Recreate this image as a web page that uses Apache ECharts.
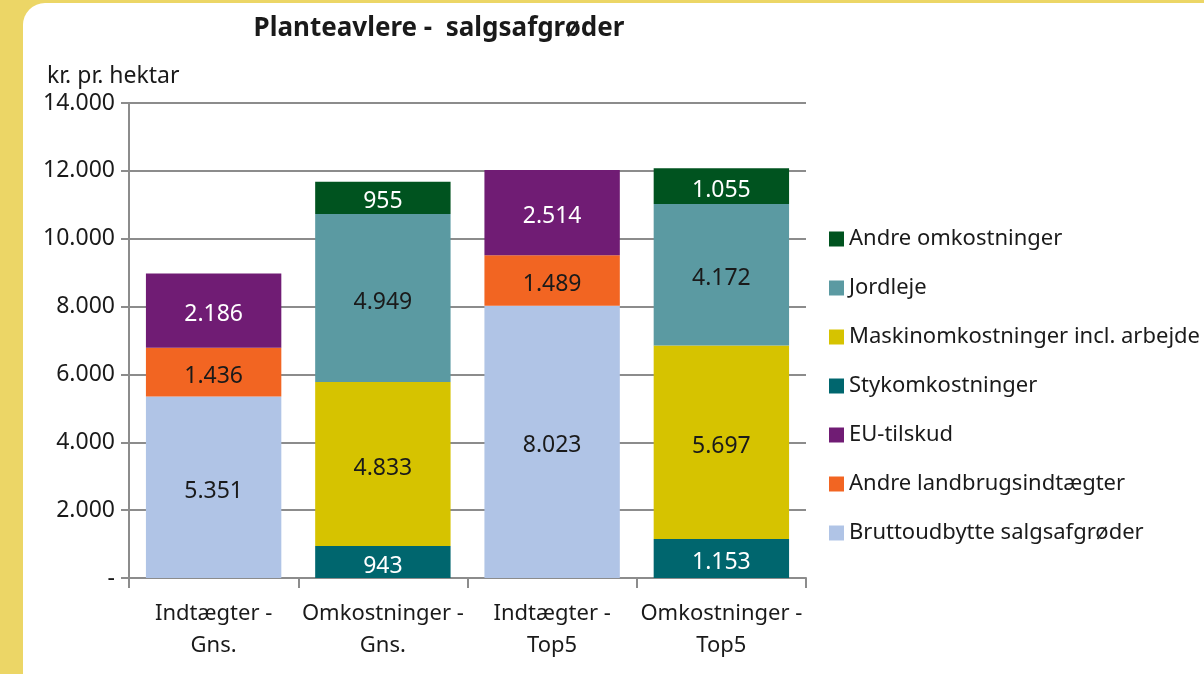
<!DOCTYPE html>
<html><head><meta charset="utf-8">
<script src="https://cdn.jsdelivr.net/npm/echarts@6/dist/echarts.min.js"></script>
<style>html,body{margin:0;padding:0;background:#ecd666;}#c{width:1204px;height:674px;}</style>
</head><body><div id="c"></div>
<script>
const categories = ['Indtægter -\nGns.', 'Omkostninger -\nGns.', 'Indtægter -\nTop5', 'Omkostninger -\nTop5'];
const bruttoudbytte = [5351, null, 8023, null];
const andreLandbrug = [1436, null, 1489, null];
const euTilskud = [2186, null, 2514, null];
const stykomk = [null, 943, null, 1153];
const maskinomk = [null, 4833, null, 5697];
const jordleje = [null, 4949, null, 4172];
const andreOmk = [null, 955, null, 1055];
const yTicks = [0, 2000, 4000, 6000, 8000, 10000, 12000, 14000];

const FONT = 'Noto Sans';
function fmt(v){ if (v === 0) return '-'; return String(Math.round(v)).replace(/\B(?=(\d{3})+(?!\d))/g, '.'); }

const defs = [
  {name:'Bruttoudbytte salgsafgrøder', data:bruttoudbytte, color:'#b0c4e6', lbl:'#1a1a1a'},
  {name:'Andre landbrugsindtægter', data:andreLandbrug, color:'#f26522', lbl:'#1a1a1a'},
  {name:'EU-tilskud', data:euTilskud, color:'#701c74', lbl:'#ffffff'},
  {name:'Stykomkostninger', data:stykomk, color:'#00666e', lbl:'#ffffff'},
  {name:'Maskinomkostninger incl. arbejde', data:maskinomk, color:'#d6c300', lbl:'#1a1a1a'},
  {name:'Jordleje', data:jordleje, color:'#5b9aa2', lbl:'#1a1a1a'},
  {name:'Andre omkostninger', data:andreOmk, color:'#00531f', lbl:'#ffffff'}
];

const series = defs.map(d => ({
  name: d.name, type: 'bar', stack: 'total', data: d.data,
  barCategoryGap: '20%',
  itemStyle: {color: d.color},
  label: {show: true, position: 'inside', offset: [0, 4], color: d.lbl, fontFamily: FONT, fontSize: 23,
    formatter: p => fmt(p.value)},
  emphasis: {disabled: true}
}));

const chart = echarts.init(document.getElementById('c'));
chart.setOption({
  animation: false,
  backgroundColor: 'transparent',
  graphic: [
    {type:'rect', z:-10, shape:{x:23, y:3, width:1220, height:720, r:22}, style:{fill:'#ffffff'}},
    {type:'text', z:10, x:439, y:29, style:{text:'Planteavlere -  salgsafgrøder', font:'bold 26px "Noto Sans"', fill:'#1a1a1a', textAlign:'center', textVerticalAlign:'middle'}},
    {type:'text', z:10, x:47, y:76, style:{text:'kr. pr. hektar', font:'23px "Noto Sans"', fill:'#1a1a1a', textAlign:'left', textVerticalAlign:'middle'}}
  ],
  grid: {left: 129, right: 398, top: 103, bottom: 96, containLabel: false},
  legend: {
    orient: 'vertical', left: 824, top: 223, itemWidth: 15, itemHeight: 15, itemGap: 27,
    icon: 'rect',
    textStyle: {fontFamily: FONT, fontSize: 22, color: '#1a1a1a', lineHeight: 21},
    data: ['Andre omkostninger','Jordleje','Maskinomkostninger incl. arbejde','Stykomkostninger','EU-tilskud','Andre landbrugsindtægter','Bruttoudbytte salgsafgrøder'],
    selectedMode: false
  },
  xAxis: {
    type: 'category', data: categories,
    axisLine: {show: true, lineStyle: {color: '#8c8c8c', width: 2}},
    axisTick: {show: true, length: 10, lineStyle: {color: '#8c8c8c', width: 2}},
    axisLabel: {fontFamily: FONT, fontSize: 22, color: '#1a1a1a', lineHeight: 32, margin: 20, interval: 0}
  },
  yAxis: {
    type: 'value', min: 0, max: 14000, interval: 2000,
    axisLine: {show: true, lineStyle: {color: '#8c8c8c', width: 2}},
    axisTick: {show: true, length: 8, lineStyle: {color: '#8c8c8c', width: 2}},
    splitLine: {show: true, lineStyle: {color: '#8c8c8c', width: 2}},
    axisLabel: {fontFamily: FONT, fontSize: 23, color: '#1a1a1a', margin: 14,
      formatter: v => yTicks.indexOf(v) >= 0 ? fmt(v) : ''}
  },
  series: series
});
</script></body></html>
